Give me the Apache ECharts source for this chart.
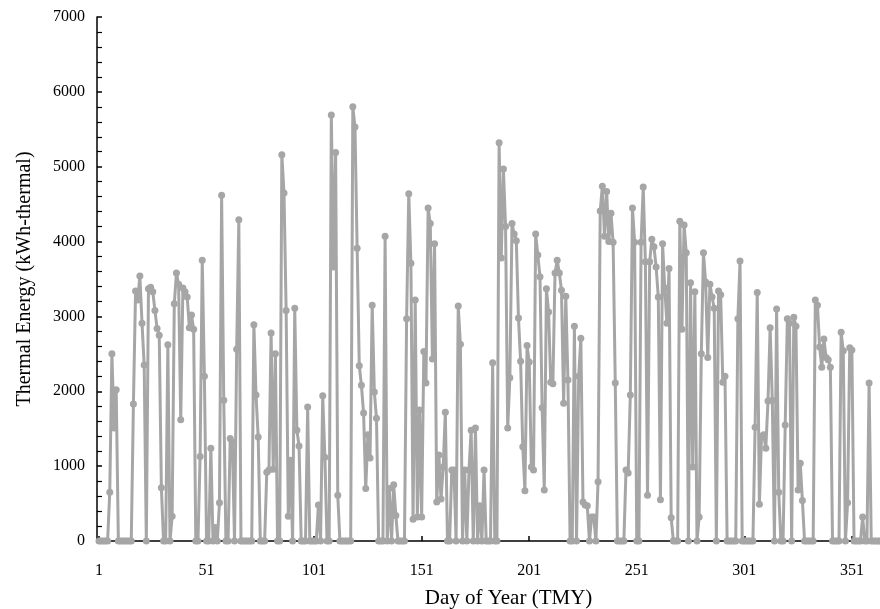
<!DOCTYPE html>
<html>
<head>
<meta charset="utf-8">
<script src="https://cdn.jsdelivr.net/npm/echarts@6/dist/echarts.min.js"></script>
<style>html,body{margin:0;padding:0;background:#fff}#c{width:880px;height:609px}</style>
</head>
<body>
<div id="c"></div>
<script>
// Daily thermal energy (kWh-thermal), days 1..365
const energy = [
0,0,0,0,0,650,2500,1510,2020,0,
0,0,0,0,0,0,1830,3340,3220,3540,
2910,2350,0,3370,3390,3330,3080,2840,2750,710,
0,0,2620,0,330,3170,3580,3430,1620,3380,
3330,3260,2850,3020,2830,0,0,1130,3750,2200,
0,0,1240,0,180,0,510,4620,1880,0,
0,1370,1320,0,2560,4290,0,0,0,0,
0,0,2890,1950,1390,0,0,0,920,950,
2780,960,2500,0,0,5160,4650,3080,330,1080,
0,3110,1480,1270,0,0,0,1790,0,0,
0,0,480,0,1940,1120,0,0,5690,3660,
5190,610,0,0,0,0,0,0,5800,5530,
3910,2340,2080,1710,700,1420,1110,3150,1990,1640,
0,0,0,4070,0,700,0,750,340,0,
0,0,0,2970,4640,3710,290,3220,320,1750,
320,2530,2110,4450,4240,2430,3970,520,1150,560,
990,1720,0,0,950,950,0,3140,2630,0,
950,0,950,1480,0,1510,0,470,0,950,
0,0,0,2380,0,0,5320,3780,4970,4200,
1510,2180,4240,4100,4010,2980,2400,1260,670,2610,
2390,990,950,4100,3820,3530,1780,680,3370,3060,
2120,2100,3580,3750,3580,3350,1840,3270,2150,0,
0,2870,0,2200,2710,520,480,470,0,320,
320,0,790,4410,4740,4070,4670,4000,4380,3990,
2110,0,0,0,0,950,910,1950,4450,3990,
0,0,3990,4730,3730,610,3730,4030,3930,3660,
3260,550,3970,3380,2910,3640,310,0,0,0,
4270,2830,4220,3850,0,3450,990,3330,0,320,
2500,3850,3460,2450,3430,3260,3110,0,3340,3290,
2120,2200,0,0,0,0,0,2970,3740,0,
0,0,0,0,0,1520,3320,490,1400,1420,
1240,1870,2850,1880,0,3100,650,0,0,1550,
2970,2910,0,2990,2870,680,1040,540,0,0,
0,0,0,3220,3150,2590,2320,2700,2450,2420,
2320,0,0,0,0,2790,2540,0,510,2580,
2550,0,0,0,0,320,0,0,2110,0,
0,0,0,0,0
];
const days = energy.map((v, i) => i + 1);
const xTicks = { min: 1, max: 365, step: 50 };
const yTicks = { min: 0, max: 7000, step: 1000 };
const xName = 'Day of Year (TMY)';
const yName = 'Thermal Energy (kWh-thermal)';

const font = '"Liberation Serif", "Times New Roman", serif';
const chart = echarts.init(document.getElementById('c'), null, { renderer: 'canvas' });
chart.setOption({
  animation: false,
  backgroundColor: '#ffffff',
  grid: { left: 99, right: -2, top: 17, bottom: 68, outerBoundsMode: 'none', containLabel: false },
  xAxis: {
    type: 'value', min: xTicks.min, max: xTicks.max, interval: xTicks.step,
    name: xName, nameLocation: 'middle', nameGap: 47,
    nameTextStyle: { fontFamily: font, fontSize: 21, color: '#000', padding: [0, 0, 0, 36] },
    axisLine: { show: true, onZero: false, lineStyle: { color: '#000', width: 1.5 } },
    axisTick: { show: true, inside: true, length: 5, lineStyle: { color: '#000', width: 1.5 } },
    axisLabel: { fontFamily: font, fontSize: 16, color: '#000', margin: 22, showMaxLabel: false },
    splitLine: { show: false }
  },
  yAxis: {
    type: 'value', min: yTicks.min, max: yTicks.max, interval: yTicks.step,
    offset: 2,
    name: yName, nameLocation: 'middle', nameGap: 62,
    nameTextStyle: { fontFamily: font, fontSize: 20, color: '#000' },
    axisLine: { show: true, lineStyle: { color: '#000', width: 1.5 } },
    axisTick: { show: true, inside: true, length: 5, lineStyle: { color: '#000', width: 1.5 } },
    minorTick: { show: true, splitNumber: 5, length: 5, lineStyle: { color: '#000', width: 1.2 } },
    axisLabel: { fontFamily: font, fontSize: 16, color: '#000', margin: 12, formatter: v => String(v) },
    splitLine: { show: false }
  },
  series: [{
    type: 'line',
    data: days.map((d, i) => [d, energy[i]]),
    symbol: 'circle', symbolSize: 7,
    lineStyle: { color: '#a6a6a6', width: 3 },
    itemStyle: { color: '#a6a6a6' },
    clip: false,
    z: 3
  }]
});
</script>
</body>
</html>
